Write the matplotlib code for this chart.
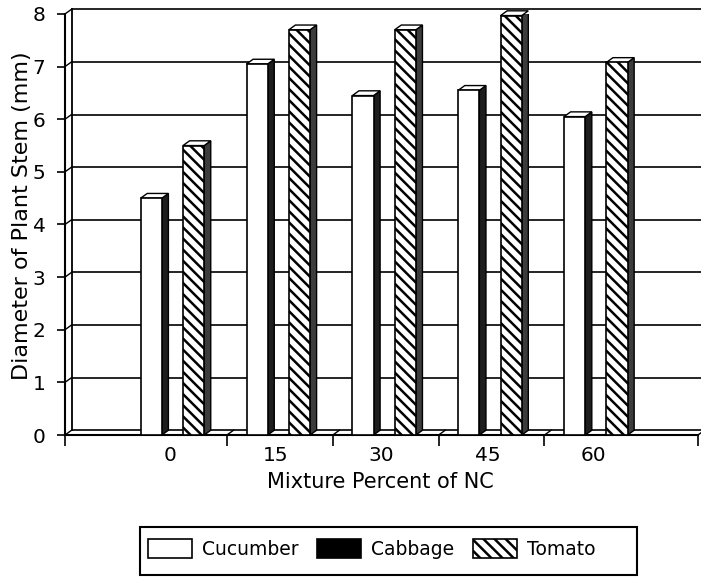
import matplotlib.pyplot as plt
from matplotlib.patches import Polygon, Rectangle, Patch

plt.rcParams['font.family'] = ['DejaVu Sans']
plt.rcParams['hatch.linewidth'] = 1.8

categories = ['0', '15', '30', '45', '60']
series_names = ['Cucumber', 'Cabbage', 'Tomato']
cucumber = [4.5, 7.05, 6.45, 6.55, 6.05]
cabbage = [0, 0, 0, 0, 0]
tomato = [5.5, 7.7, 7.7, 7.97, 7.08]

fig = plt.figure(figsize=(7.01, 5.78), dpi=100)
ax = fig.add_axes([0.0927, 0.2474, 0.903, 0.7284])
ax.set_xlim(-1.03, 4.95)
ax.set_ylim(0, 8)

# depth of the fake 3d look, in data units
dx, dy = 0.062, 0.09

# back wall grid
for v in range(1, 9):
    ax.plot([-1.03 + dx, 4.95 + dx], [v + dy, v + dy], color='black', lw=1.2, clip_on=False, zorder=1)
ax.plot([-1.03 + dx, 4.95 + dx], [dy, dy], color='black', lw=1.2, clip_on=False, zorder=1)
ax.plot([-1.03 + dx, -1.03 + dx], [dy, 8 + dy], color='black', lw=1.3, clip_on=False, zorder=1)
for v in range(0, 9):
    ax.plot([-1.03, -1.03 + dx], [v, v + dy], color='black', lw=1.0, clip_on=False, zorder=1)
for xt in [0.5, 1.5, 2.5, 3.5, 4.95]:
    ax.plot([xt, xt + dx], [0, dy], color='black', lw=1.0, clip_on=False, zorder=1)

width = 0.2
offsets = [-0.215, -0.015, 0.185]
styles = [
    dict(front='white', hatch=None, side='#1e1e1e'),
    dict(front='black', hatch=None, side='#111111'),
    dict(front='white', hatch='\\\\\\', side='#3c3c3c'),
]


def bar3d(x0, h, st):
    x1 = x0 + width
    ax.add_patch(Polygon([[x1, 0], [x1 + dx, dy], [x1 + dx, h + dy], [x1, h]],
                         facecolor=st['side'], edgecolor='black', lw=1.0, zorder=3))
    ax.add_patch(Polygon([[x0, h], [x0 + dx, h + dy], [x1 + dx, h + dy], [x1, h]],
                         facecolor='white', edgecolor='black', lw=1.0, zorder=3, clip_on=False))
    ax.add_patch(Rectangle((x0, 0), width, h, facecolor=st['front'], edgecolor='black',
                           hatch=st['hatch'], lw=1.2, zorder=4))


for s, vals in enumerate([cucumber, cabbage, tomato]):
    for i, v in enumerate(vals):
        if v > 0:
            bar3d(i + offsets[s] - width / 2, v, styles[s])

for side in ['top', 'right']:
    ax.spines[side].set_visible(False)
for side in ['left', 'bottom']:
    ax.spines[side].set_linewidth(1.5)

ax.set_yticks(range(0, 9))
ax.tick_params(axis='y', direction='out', length=6, width=1.2, pad=8, labelsize=14.5)
ax.set_xticks([-1.03, 0.5, 1.5, 2.5, 3.5, 4.95])
ax.set_xticklabels([])
ax.tick_params(axis='x', which='major', direction='out', length=8, width=1.2)
ax.set_xticks([i - 0.04 for i in range(len(categories))], minor=True)
ax.set_xticklabels(categories, minor=True)
ax.tick_params(axis='x', which='minor', length=0, pad=8, labelsize=14.5)

ax.set_ylabel('Diameter of Plant Stem (mm)', fontsize=16)
ax.yaxis.set_label_coords(-0.052, 0.522)
ax.set_xlabel('Mixture Percent of NC', fontsize=15)
ax.xaxis.set_label_coords(0.499, -0.088)

handles = [
    Patch(facecolor='white', edgecolor='black', lw=1.2),
    Patch(facecolor='black', edgecolor='black', lw=1.2),
    Patch(facecolor='white', edgecolor='black', hatch='\\\\\\', lw=1.2),
]
leg = fig.legend(handles, series_names, loc='center left', bbox_to_anchor=(0.2111, 0.050), ncol=3,
                 fontsize=13.5, frameon=False, borderpad=0, borderaxespad=0,
                 handlelength=2.35, handleheight=1.17, handletextpad=0.53, columnspacing=1.0)
fig.add_artist(Rectangle((0.1997, 0.0052), 0.709, 0.083, transform=fig.transFigure,
                         facecolor='none', edgecolor='black', lw=1.5))

fig.savefig('out.png', dpi=100)
